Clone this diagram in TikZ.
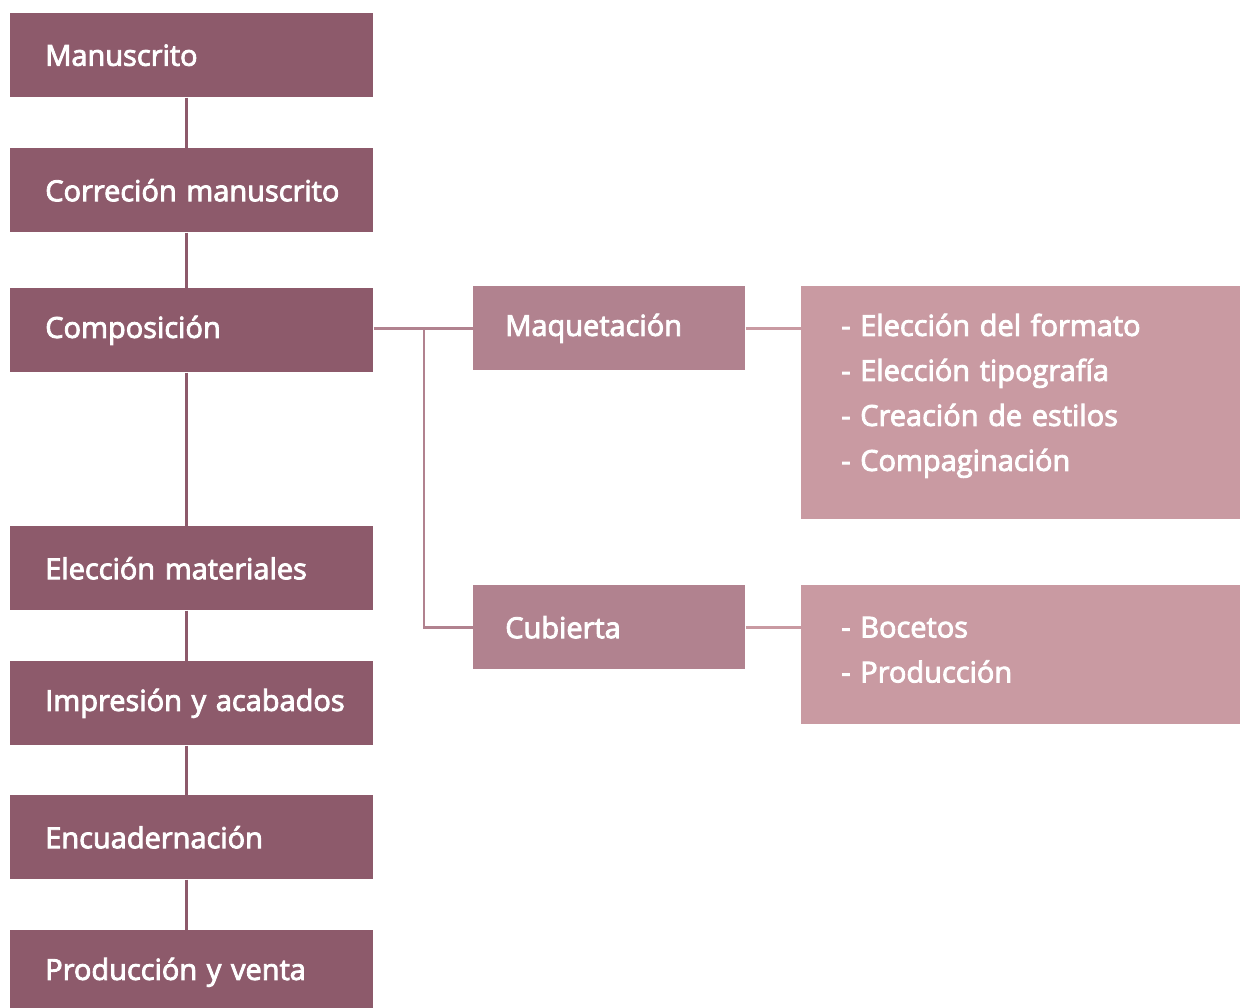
\documentclass[tikz,border=0pt]{standalone}
\usepackage{fontspec}
\newfontfamily\boxfont{Open Sans}[FakeBold=3]
\definecolor{stepdark}{HTML}{8D5A6B}
\definecolor{stepmid}{HTML}{B1828F}
\definecolor{steplight}{HTML}{C99AA2}
\tikzset{
  plainbox/.style={anchor=north west, text=white, draw=none, minimum height=2.1cm,
    inner xsep=0pt, align=left, font=\boxfont\fontsize{20.6}{32}\selectfont},
  stage/.style={plainbox, fill=stepdark, minimum width=9.075cm, text width=9.075cm,
    execute at begin node={\hspace*{0.875cm}}},
  task/.style={plainbox, fill=stepmid, minimum width=6.8cm, text width=6.8cm,
    execute at begin node={\hspace*{0.8cm}}},
  detail/.style={plainbox, fill=steplight, minimum width=10.975cm, inner xsep=1cm,
    text width=8.975cm},
  mainlink/.style={stepdark, line width=0.075cm},
  sidelink/.style={stepmid, line width=0.07cm}
}
\begin{document}
\begin{tikzpicture}
\useasboundingbox (0,0) rectangle (31,-25.2);
\node[stage] (manus) at (0.25,-0.325) {Manuscrito};
\node[stage] (correc) at (0.25,-3.7) {Correción manuscrito};
\node[stage] (compos) at (0.25,-7.2) {Composición};
\node[stage] (mater) at (0.25,-13.15) {Elección materiales};
\node[stage] (impre) at (0.25,-16.525) {Impresión y acabados};
\node[stage] (encua) at (0.25,-19.875) {Encuadernación};
\node[stage] (venta) at (0.25,-23.25) {Producción y venta};
\node[task] (maque) at (11.825,-7.15) {Maquetación};
\node[task] (cubie) at (11.825,-14.625) {Cubierta};
\node[detail, minimum height=5.825cm] (maqlist) at (20.025,-7.15)
  {- Elección del formato\\- Elección tipografía\\- Creación de estilos\\- Compaginación\par\vspace*{0.35cm}};
\node[detail, minimum height=3.475cm] (cublist) at (20.025,-14.625)
  {- Bocetos\\- Producción\par\vspace*{0.25cm}};
\foreach \a/\b in {manus/correc, correc/compos, compos/mater, mater/impre, impre/encua, encua/venta}
  \draw[mainlink] ([xshift=-0.14cm]\a.south) -- ([xshift=-0.14cm]\b.north);
\coordinate (split) at (10.6,-8.175);
\draw[sidelink] (compos.east |- maque.west) -- (maque.west);
\draw[sidelink] (split) |- (cubie.west);
\draw[sidelink, steplight] (maque.east) -- (maqlist.west |- maque.east);
\draw[sidelink, steplight] (cubie.east) -- (cublist.west |- cubie.east);
\end{tikzpicture}
\end{document}
